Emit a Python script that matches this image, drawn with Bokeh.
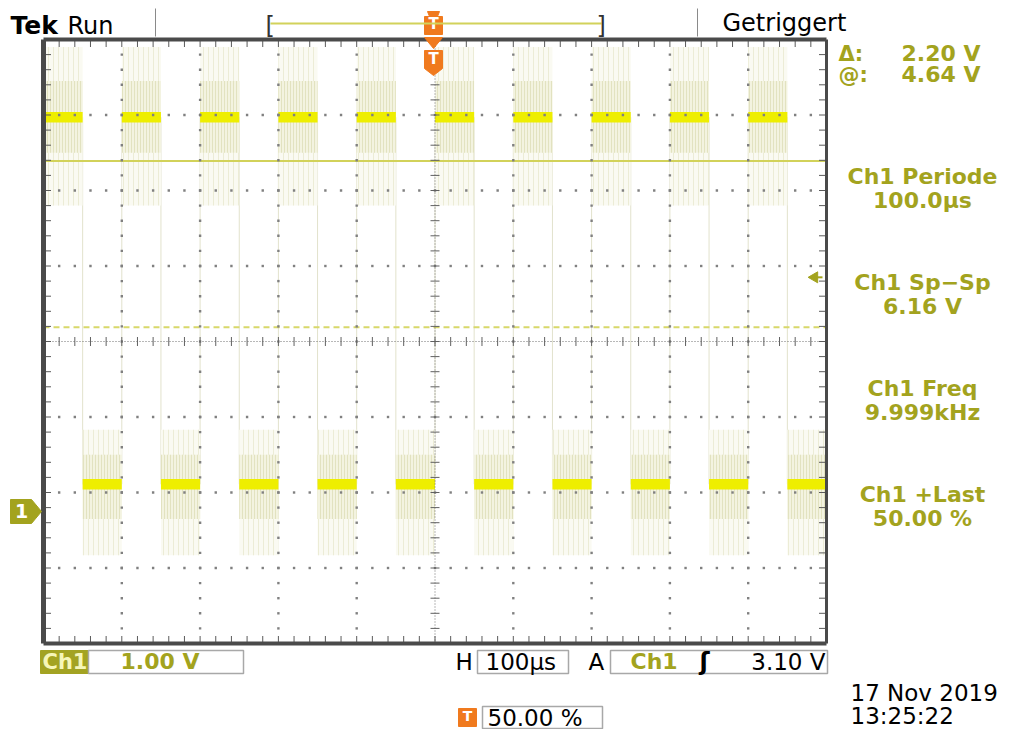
import numpy as np
from bokeh.plotting import figure
from bokeh.models import Range1d
from bokeh.core.properties import value
from bokeh.embed import file_html
from bokeh.resources import INLINE

high_starts_us = [-500, -400, -300, -200, -100, 0, 100, 200, 300, 400]
low_starts_us = [-450, -350, -250, -150, -50, 50, 150, 250, 350, 450]
half_period_us = 50.0
v_high = 5.22
v_low = 0.36
core_half_v = 0.07
high_dense_v = [4.75, 5.70]
low_dense_v = [-0.10, 0.75]
high_faint_v = [4.05, 6.15]
low_faint_v = [-0.58, 1.08]
cursor_at_v = 4.64
cursor_delta_v = 2.20
trigger_level_v = 3.10
screen_t_us = [-500.0, 500.0]
screen_v = [-1.75, 6.25]
div_us = 100.0
div_v = 1.0

meas_titles = ["Ch1 Periode", "Ch1 Sp\u2212Sp", "Ch1 Freq", "Ch1 +Last"]
meas_values = ["100.0\u00b5s", "6.16 V", "9.999kHz", "50.00 %"]
cursor_labels = ["\u0394:", "@:"]
cursor_values = ["2.20 V", "4.64 V"]

# ---------------- page geometry ----------------
W, H = 1013, 729
GL, GR, GT, GB = 43, 826, 39, 643
SX = (GR - GL) / (screen_t_us[1] - screen_t_us[0])
SY = (GB - GT) / (screen_v[1] - screen_v[0])
x_start = screen_t_us[0] - GL / SX
x_end = screen_t_us[1] + (W - GR) / SX
y_top = screen_v[1] + GT / SY
y_bot = screen_v[0] - (H - GB) / SY
TXT_DY = -8  # text baseline correction in pixels


def X(px):
    return x_start + px / SX


def Y(py):
    return y_top - py / SY


OLIVE = "#a3a31e"
ORANGE = "#f07a1e"
YEL = "#eeee00"
FONT = "DejaVu Sans"

p = figure(width=W, height=H, x_range=Range1d(x_start, x_end), y_range=Range1d(y_bot, y_top),
           output_backend="svg", toolbar_location=None, x_axis_location=None,
           y_axis_location=None, min_border=0)
p.outline_line_color = None
p.grid.visible = False
p.background_fill_color = "white"
p.border_fill_color = "white"


def txt(px, py, s, size=24, color="black", align="left", style="normal", font=FONT):
    p.text(x=[X(px)], y=[Y(py + TXT_DY)], text=[s], text_font=value(font),
           text_font_size=f"{size}px", text_color=color, text_align=align,
           text_baseline="alphabetic", text_font_style=style)


# ---------------- waveform ----------------
edges = sorted([(t, v_high) for t in high_starts_us] + [(t, v_low) for t in low_starts_us])
step_x = [e[0] for e in edges] + [screen_t_us[1]]
step_y = [e[1] for e in edges] + [edges[-1][1]]
p.step(x=step_x, y=step_y, mode="after", line_color="#e2e2cc", line_width=1)

hi_l = high_starts_us
hi_r = [t + half_period_us for t in high_starts_us]
lo_l = low_starts_us
lo_r = [t + half_period_us for t in low_starts_us]

for lft, rgt, faint, dense, lvl in [(hi_l, hi_r, high_faint_v, high_dense_v, v_high),
                                    (lo_l, lo_r, low_faint_v, low_dense_v, v_low)]:
    p.quad(left=lft, right=rgt, bottom=faint[0], top=faint[1], fill_color="#fafaf2",
           line_color=None, hatch_pattern="|", hatch_color="#ececd6", hatch_scale=5, hatch_weight=1)
    p.quad(left=lft, right=rgt, bottom=dense[0], top=dense[1], fill_color="#f3f3e0",
           line_color=None, hatch_pattern="|", hatch_color="#e2e2c0", hatch_scale=3, hatch_weight=1)
    p.quad(left=lft, right=rgt, bottom=lvl - core_half_v, top=lvl + core_half_v,
           fill_color=YEL, line_color=None)

# cursors
p.segment(x0=[screen_t_us[0]], x1=[screen_t_us[1]], y0=[cursor_at_v], y1=[cursor_at_v],
          line_color="#d2d25a", line_width=2)
p.segment(x0=[screen_t_us[0]], x1=[screen_t_us[1]], y0=[cursor_at_v - cursor_delta_v],
          y1=[cursor_at_v - cursor_delta_v], line_color="#d8d86a", line_width=2, line_dash="6 4")

# ---------------- graticule ----------------
t_c = (screen_t_us[0] + screen_t_us[1]) / 2
v_c = (screen_v[0] + screen_v[1]) / 2
minor_t = np.arange(screen_t_us[0], screen_t_us[1] + 0.01, div_us / 5)
minor_v = np.arange(screen_v[0], screen_v[1] + 0.001, div_v / 5)
cols = [t for t in np.arange(screen_t_us[0] + div_us, screen_t_us[1], div_us) if abs(t - t_c) > 1]
rows = [v for v in np.arange(screen_v[0] + div_v, screen_v[1], div_v) if abs(v - v_c) > 0.01]
dx, dy = [], []
for c in cols:
    for v in minor_v[1:-1]:
        dx.append(c); dy.append(v)
for r in rows:
    for t in minor_t[1:-1]:
        dx.append(t); dy.append(r)
p.scatter(x=dx, y=dy, marker="square", size=2.4, fill_color="#808080", line_color=None)

# centre cross
p.segment(x0=[screen_t_us[0], t_c], x1=[screen_t_us[1], t_c], y0=[v_c, screen_v[0]],
          y1=[v_c, screen_v[1]], line_color="#707070", line_width=1, line_dash="1 2")
p.scatter(x=minor_t[1:-1], y=[v_c] * len(minor_t[1:-1]), marker="dash", angle=np.pi / 2,
          size=9, line_color="#606060", line_width=1)
p.scatter(x=[t_c] * len(minor_v[1:-1]), y=minor_v[1:-1], marker="dash", size=9,
          line_color="#606060", line_width=1)

# border ticks
p.scatter(x=minor_t, y=[Y(GT + 4)] * len(minor_t), marker="dash", angle=np.pi / 2, size=7,
          line_color="#5a5a5a", line_width=1)
p.scatter(x=minor_t, y=[Y(GB - 4)] * len(minor_t), marker="dash", angle=np.pi / 2, size=7,
          line_color="#5a5a5a", line_width=1)
p.scatter(x=[X(GL + 4)] * len(minor_v), y=minor_v, marker="dash", size=7,
          line_color="#5a5a5a", line_width=1)
p.scatter(x=[X(GR - 4)] * len(minor_v), y=minor_v, marker="dash", size=7,
          line_color="#5a5a5a", line_width=1)

# border
p.segment(x0=[screen_t_us[0]], x1=[screen_t_us[0]], y0=[screen_v[0]], y1=[screen_v[1]],
          line_color="#4a4a4a", line_width=5)
p.segment(x0=[screen_t_us[1]], x1=[screen_t_us[1]], y0=[screen_v[0]], y1=[screen_v[1]],
          line_color="#4a4a4a", line_width=3)
p.segment(x0=[screen_t_us[0]] * 2, x1=[screen_t_us[1]] * 2, y0=[screen_v[0], screen_v[1]],
          y1=[screen_v[0], screen_v[1]], line_color="#4a4a4a", line_width=4)

# trigger level arrow
p.scatter(x=[X(814)], y=[trigger_level_v], marker="triangle", angle=np.pi / 2, size=11,
          fill_color=OLIVE, line_color=OLIVE)
p.segment(x0=[X(814)], x1=[X(822)], y0=[trigger_level_v], y1=[trigger_level_v],
          line_color=OLIVE, line_width=2)

# ground marker "1"
p.patch(x=[X(10), X(31), X(41), X(31), X(10)], y=[Y(499), Y(499), Y(511), Y(523), Y(523)],
        fill_color=OLIVE, line_color=OLIVE)
txt(21, 518, "1", size=19, color="white", align="center", style="bold")

# trigger position markers
p.patch(x=[X(427), X(439), X(437), X(429)], y=[Y(11), Y(11), Y(16), Y(16)],
        fill_color=ORANGE, line_color=ORANGE)
p.quad(left=[X(424)], right=[X(442)], top=[Y(16)], bottom=[Y(34)], fill_color=ORANGE,
       line_color=ORANGE)
txt(433, 31, "T", size=15, color="white", align="center", style="bold")
p.patch(x=[X(424), X(442), X(433)], y=[Y(37), Y(37), Y(48)], fill_color=ORANGE, line_color=ORANGE)
p.patch(x=[X(424), X(442), X(442), X(433), X(424)], y=[Y(50), Y(50), Y(68), Y(75), Y(68)],
        fill_color=ORANGE, line_color=ORANGE)
txt(433, 66, "T", size=15, color="white", align="center", style="bold")

# ---------------- header ----------------
txt(10, 33, "Tek", size=25, style="bold")
txt(67, 33, "Run", size=24)
p.segment(x0=[X(155), X(697)], x1=[X(155), X(697)], y0=[Y(8), Y(8)], y1=[Y(36), Y(36)],
          line_color="#8a8a8a", line_width=1)
p.segment(x0=[X(270)], x1=[X(601)], y0=[Y(23)], y1=[Y(23)], line_color="#d2d25a", line_width=2)
txt(265, 33, "[", size=24, color="#333333")
txt(596, 33, "]", size=24, color="#333333")
txt(722, 30, "Getriggert", size=24)

# ---------------- right panel ----------------
txt(838, 61, cursor_labels[0], size=21, color=OLIVE, style="bold")
txt(980, 61, cursor_values[0], size=22, color=OLIVE, align="right", style="bold")
txt(838, 82, cursor_labels[1], size=21, color=OLIVE, style="bold")
txt(980, 82, cursor_values[1], size=22, color=OLIVE, align="right", style="bold")
for i, (tt, vv) in enumerate(zip(meas_titles, meas_values)):
    base = 184 + i * 106
    txt(922, base, tt, size=22, color=OLIVE, align="center", style="bold")
    txt(922, base + 24, vv, size=22, color=OLIVE, align="center", style="bold")

# ---------------- bottom status ----------------
p.quad(left=[X(40)], right=[X(88)], top=[Y(650)], bottom=[Y(673)], fill_color="#a3a322",
       line_color="#a3a322")
txt(42, 669, "Ch1", size=21, color="#f6f6b8", style="bold")
p.quad(left=[X(88), X(477), X(610), X(482)], right=[X(243), X(568), X(827), X(602)],
       top=[Y(650), Y(650), Y(650), Y(706)], bottom=[Y(673), Y(673), Y(673), Y(728)],
       fill_color="white", line_color="#a8a8a8", line_width=1.5)
txt(120, 669, "1.00 V", size=22, color=OLIVE, style="bold")
txt(455, 669, "H", size=23)
txt(485, 669, "100\u00b5s", size=23)
txt(588, 669, "A", size=23)
txt(630, 669, "Ch1", size=22, color=OLIVE, style="bold")
txt(699, 669, "\u0283", size=24, style="bold")
txt(825, 669, "3.10 V", size=23, align="right")
p.quad(left=[X(458)], right=[X(476)], top=[Y(708)], bottom=[Y(726)], fill_color=ORANGE,
       line_color=ORANGE)
txt(467, 723, "T", size=14, color="white", align="center", style="bold")
txt(487, 725, "50.00 %", size=23)
txt(850, 700, "17 Nov 2019", size=23)
txt(850, 723, "13:25:22", size=23)

open("out.html", "w").write(file_html(p, INLINE))
